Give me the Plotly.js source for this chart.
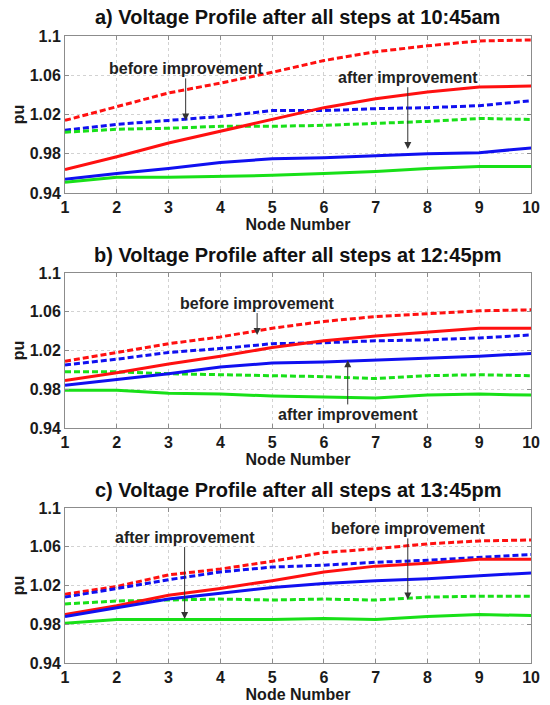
<!DOCTYPE html>
<html>
<head>
<meta charset="utf-8">
<script src="https://cdn.plot.ly/plotly-3.0.1.min.js"></script>
<style>
html,body{margin:0;padding:0;background:#fff;}
#chart{width:550px;height:705px;}
</style>
</head>
<body>
<div id="chart"></div>
<script>
// ---- data ----
const nodes = [1, 2, 3, 4, 5, 6, 7, 8, 9, 10];
const yTickVals = [0.94, 0.98, 1.02, 1.06, 1.1];
const yTickText = ['0.94', '0.98', '1.02', '1.06', '1.1'];
const panelTitles = [
  'a) Voltage Profile after all steps at 10:45am',
  'b) Voltage Profile after all steps at 12:45pm',
  'c) Voltage Profile after all steps at 13:45pm'
];
const xTitle = 'Node Number';
const yTitle = 'pu';

// panel a (10:45am)
const a_red_before   = [1.014, 1.028, 1.042, 1.052, 1.063, 1.075, 1.084, 1.090, 1.095, 1.096];
const a_red_after    = [0.964, 0.977, 0.991, 1.003, 1.015, 1.027, 1.036, 1.043, 1.048, 1.049];
const a_blue_before  = [1.004, 1.010, 1.014, 1.018, 1.024, 1.024, 1.026, 1.027, 1.029, 1.034];
const a_blue_after   = [0.954, 0.960, 0.965, 0.971, 0.975, 0.976, 0.978, 0.980, 0.981, 0.986];
const a_green_before = [1.002, 1.005, 1.006, 1.008, 1.008, 1.009, 1.011, 1.013, 1.016, 1.015];
const a_green_after  = [0.951, 0.956, 0.956, 0.957, 0.958, 0.960, 0.962, 0.965, 0.967, 0.967];

// panel b (12:45pm)
const b_red_before   = [1.009, 1.018, 1.027, 1.034, 1.043, 1.050, 1.055, 1.058, 1.061, 1.062];
const b_red_after    = [0.989, 0.997, 1.006, 1.014, 1.023, 1.030, 1.035, 1.039, 1.043, 1.043];
const b_blue_before  = [1.005, 1.011, 1.018, 1.022, 1.027, 1.028, 1.030, 1.031, 1.033, 1.036];
const b_blue_after   = [0.984, 0.990, 0.996, 1.003, 1.007, 1.008, 1.010, 1.012, 1.014, 1.017];
const b_green_before = [0.998, 0.998, 0.996, 0.995, 0.994, 0.993, 0.991, 0.994, 0.995, 0.994];
const b_green_after  = [0.979, 0.979, 0.976, 0.975, 0.973, 0.972, 0.971, 0.974, 0.975, 0.974];

// panel c (13:45pm)
const c_red_before   = [1.011, 1.019, 1.031, 1.037, 1.045, 1.054, 1.058, 1.063, 1.066, 1.067];
const c_red_after    = [0.990, 0.999, 1.010, 1.017, 1.025, 1.034, 1.040, 1.043, 1.047, 1.047];
const c_blue_before  = [1.008, 1.017, 1.026, 1.034, 1.039, 1.041, 1.044, 1.046, 1.049, 1.052];
const c_blue_after   = [0.988, 0.997, 1.006, 1.012, 1.018, 1.022, 1.025, 1.027, 1.030, 1.033];
const c_green_before = [1.001, 1.004, 1.005, 1.006, 1.005, 1.006, 1.005, 1.008, 1.009, 1.009];
const c_green_after  = [0.981, 0.985, 0.985, 0.985, 0.985, 0.986, 0.985, 0.988, 0.990, 0.989];

// annotation labels: [text, textX, textY, tipX, tipY]
const a_notes = [
  ['before improvement', 3.33, 1.067, 3.33, 1.014],
  ['after improvement', 7.62, 1.058, 7.62, 0.985]
];
const b_notes = [
  ['before improvement', 4.71, 1.069, 4.71, 1.036],
  ['after improvement', 6.46, 0.954, 6.46, 1.010]
];
const c_notes = [
  ['after improvement', 3.31, 1.070, 3.31, 0.9855],
  ['before improvement', 7.62, 1.079, 7.62, 1.0055]
];

// ---- styling ----
const RED = '#ff1010', BLUE = '#1010f0', GREEN = '#18e018';
const FONT = 'Liberation Sans, Arial, sans-serif';
const panels = [
  {sfx: '',  yDom: [0.7262, 0.9489], titleY: 0.9759,
   series: [a_red_before, a_blue_before, a_green_before, a_red_after, a_blue_after, a_green_after], notes: a_notes},
  {sfx: '2', yDom: [0.3929, 0.6128], titleY: 0.6383,
   series: [b_red_before, b_blue_before, b_green_before, b_red_after, b_blue_after, b_green_after], notes: b_notes},
  {sfx: '3', yDom: [0.0596, 0.2794], titleY: 0.3050,
   series: [c_red_before, c_blue_before, c_green_before, c_red_after, c_blue_after, c_green_after], notes: c_notes}
];
const colors = [RED, BLUE, GREEN, RED, BLUE, GREEN];
const dashes = ['6px,3px', '6px,3px', '6px,3px', 'solid', 'solid', 'solid'];
const xDom = [0.1182, 0.9655];

const traces = [];
const layout = {
  width: 550, height: 705,
  margin: {l: 0, r: 0, t: 0, b: 0},
  paper_bgcolor: '#fff', plot_bgcolor: '#fff',
  showlegend: false,
  font: {family: FONT, size: 16, color: '#1a1a1a'},
  annotations: []
};

panels.forEach((p, i) => {
  p.series.forEach((ys, k) => {
    traces.push({
      x: nodes, y: ys, type: 'scatter', mode: 'lines',
      xaxis: 'x' + p.sfx, yaxis: 'y' + p.sfx,
      line: {color: colors[k], width: 3, dash: dashes[k]},
      hoverinfo: 'skip'
    });
  });
  const common = {
    showgrid: true, gridcolor: '#d2d2d2', griddash: 'dot', gridwidth: 1,
    showline: true, linecolor: '#8c8c8c', linewidth: 1, mirror: 'ticks',
    ticks: 'inside', ticklen: 4, tickcolor: '#8c8c8c',
    tickfont: {family: FONT, size: 16, color: '#1a1a1a', weight: 'bold'},
    zeroline: false, fixedrange: true
  };
  layout['xaxis' + p.sfx] = Object.assign({}, common, {
    domain: xDom, anchor: 'y' + p.sfx, range: [1, 10], tick0: 1, dtick: 1,
    title: {text: xTitle, standoff: 2, font: {family: FONT, size: 16, color: '#1a1a1a', weight: 'bold'}}
  });
  layout['yaxis' + p.sfx] = Object.assign({}, common, {
    domain: p.yDom, anchor: 'x' + p.sfx, range: [0.94, 1.1],
    tickvals: yTickVals, ticktext: yTickText,
    title: {text: yTitle, standoff: 1, font: {family: FONT, size: 16, color: '#1a1a1a', weight: 'bold'}}
  });
  layout.annotations.push({
    text: panelTitles[i], xref: 'paper', yref: 'paper', x: 0.5418, y: p.titleY,
    xanchor: 'center', yanchor: 'middle', showarrow: false,
    font: {family: FONT, size: 20, color: '#111', weight: 'bold'}
  });
  p.notes.forEach(n => {
    layout.annotations.push({
      text: n[0], xref: 'x' + p.sfx, yref: 'y' + p.sfx, axref: 'x' + p.sfx, ayref: 'y' + p.sfx,
      x: n[3], y: n[4], ax: n[1], ay: n[2],
      showarrow: true, arrowhead: 2, arrowsize: 1.4, arrowwidth: 1, arrowcolor: '#333',
      font: {family: FONT, size: 16, color: '#222', weight: 'bold'}
    });
  });
});

Plotly.newPlot('chart', traces, layout, {staticPlot: true, displayModeBar: false});
</script>
</body>
</html>
